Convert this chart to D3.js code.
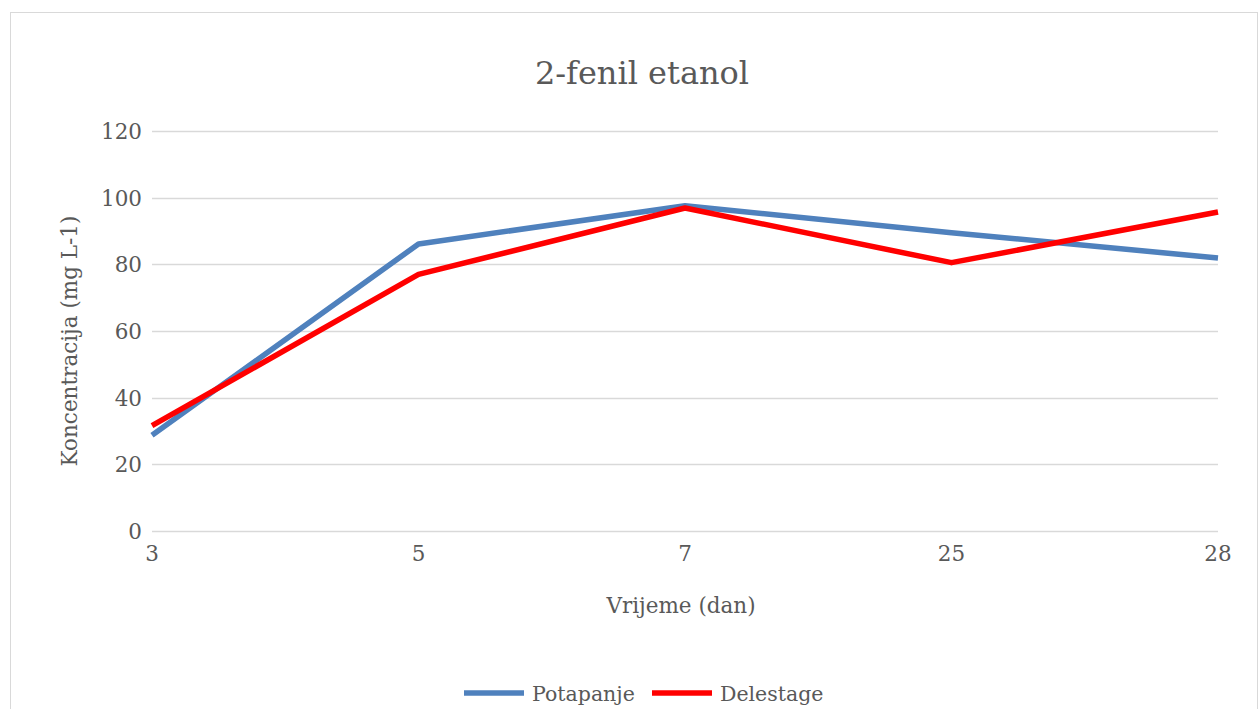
<!DOCTYPE html>
<html>
<head>
<meta charset="utf-8">
<script src="https://cdn.jsdelivr.net/npm/d3@7"></script>
<style>
  body { margin: 0; background: #fff; }
  text { font-family: "DejaVu Serif", "Liberation Serif", serif; fill: #595959; }
</style>
</head>
<body>
<script>
const days = ["3", "5", "7", "25", "28"];
const potapanje = [28.7, 86.1, 97.6, 89.5, 81.9];
const delestage = [31.6, 77.0, 96.9, 80.5, 95.7];
const yTicks = [0, 20, 40, 60, 80, 100, 120];

const width = 1260, height = 709;
const margin = { left: 152, right: 42, top: 131, bottom: 178 };

let svg = d3.select("body").append("svg")
  .attr("width", width)
  .attr("height", height);

// chart border
svg.append("rect")
  .attr("x", 10.5).attr("y", 12.5)
  .attr("width", 1247).attr("height", 720)
  .attr("fill", "none")
  .attr("stroke", "#d9d9d9");

let x = d3.scalePoint()
  .domain(days)
  .range([margin.left, width - margin.right]);

let y = d3.scaleLinear()
  .domain([0, 120])
  .range([height - margin.bottom, margin.top]);

// gridlines
svg.append("g")
  .selectAll("line")
  .data(yTicks)
  .enter()
  .append("line")
  .attr("x1", margin.left)
  .attr("x2", width - margin.right)
  .attr("y1", d => Math.round(y(d)) + 0.5)
  .attr("y2", d => Math.round(y(d)) + 0.5)
  .attr("stroke", "#d9d9d9")
  .attr("stroke-width", 1.5);

// y tick labels
svg.append("g")
  .selectAll("text")
  .data(yTicks)
  .enter()
  .append("text")
  .attr("x", margin.left - 10)
  .attr("y", d => y(d) + 8)
  .attr("text-anchor", "end")
  .attr("font-size", 21.5)
  .text(d => d);

// x tick labels
svg.append("g")
  .selectAll("text")
  .data(days)
  .enter()
  .append("text")
  .attr("x", d => x(d))
  .attr("y", 561)
  .attr("text-anchor", "middle")
  .attr("font-size", 21.5)
  .text(d => d);

// title
svg.append("text")
  .attr("x", 642)
  .attr("y", 84)
  .attr("text-anchor", "middle")
  .attr("font-size", 32)
  .text("2-fenil etanol");

// axis titles
svg.append("text")
  .attr("x", 681)
  .attr("y", 613)
  .attr("text-anchor", "middle")
  .attr("font-size", 21.5)
  .text("Vrijeme (dan)");

svg.append("text")
  .attr("transform", "translate(77, 341) rotate(-90)")
  .attr("text-anchor", "middle")
  .attr("font-size", 21.5)
  .text("Koncentracija (mg L-1)");

// lines
let line = d3.line()
  .x((d, i) => x(days[i]))
  .y(d => y(d));

let series = [
  { name: "Potapanje", values: potapanje, color: "#4f81bd" },
  { name: "Delestage", values: delestage, color: "#ff0000" }
];

svg.append("g")
  .selectAll("path")
  .data(series)
  .enter()
  .append("path")
  .attr("d", d => line(d.values))
  .attr("fill", "none")
  .attr("stroke", d => d.color)
  .attr("stroke-width", 5.5)
  .attr("stroke-linejoin", "round");

// legend
let legendX = [464, 652];
let legend = svg.append("g")
  .selectAll("g")
  .data(series)
  .enter()
  .append("g")
  .attr("transform", (d, i) => `translate(${legendX[i]}, 693)`);

legend.append("line")
  .attr("x1", 0).attr("x2", 60)
  .attr("y1", 0).attr("y2", 0)
  .attr("stroke", d => d.color)
  .attr("stroke-width", 5.5);

legend.append("text")
  .attr("x", 68)
  .attr("y", 8)
  .attr("font-size", 20.5)
  .text(d => d.name);
</script>
</body>
</html>
